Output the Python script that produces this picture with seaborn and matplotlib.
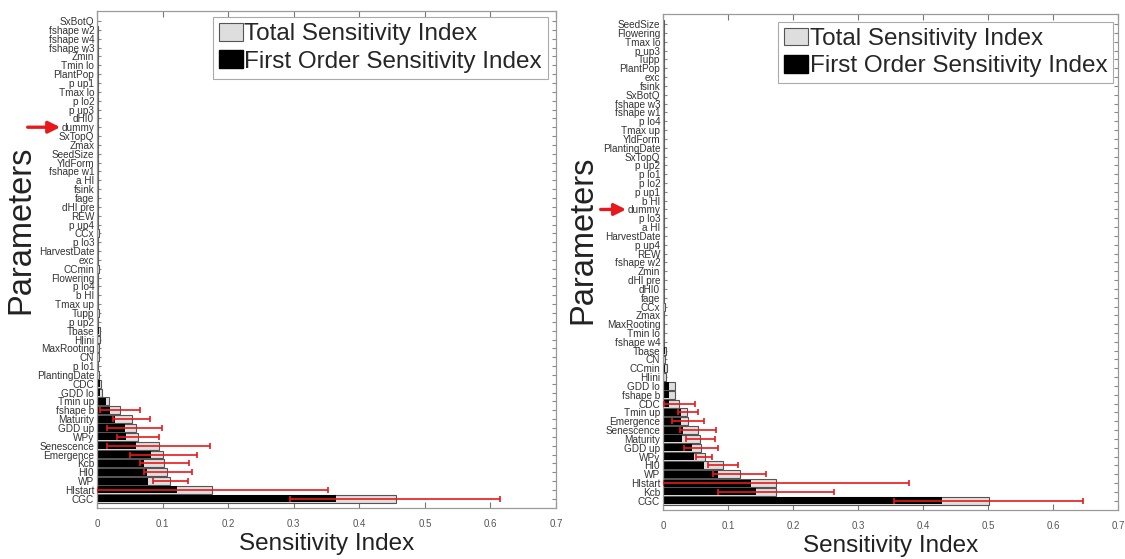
import numpy as np
import pandas as pd
import matplotlib
matplotlib.use("Agg")
import matplotlib.pyplot as plt
import seaborn as sns
from matplotlib.patches import Patch

nan = np.nan

# ---------------- Left panel data ----------------
params_left = ["SxBotQ", "fshape w2", "fshape w4", "fshape w3", "Zmin", "Tmin lo", "PlantPop", "p up1",
               "Tmax lo", "p lo2", "p up3", "dHI0", "dummy", "SxTopQ", "Zmax", "SeedSize", "YldForm",
               "fshape w1", "a HI", "fsink", "fage", "dHI pre", "REW", "p up4", "CCx", "p lo3",
               "HarvestDate", "exc", "CCmin", "Flowering", "p lo4", "b HI", "Tmax up", "Tupp", "p up2",
               "Tbase", "HIini", "MaxRooting", "CN", "p lo1", "PlantingDate", "CDC", "GDD lo", "Tmin up",
               "fshape b", "Maturity", "GDD up", "WPy", "Senescence", "Emergence", "Kcb", "HI0", "WP",
               "HIstart", "CGC"]
total_left = [0.0005, 0.001, 0.001, 0.002, 0.001, 0.001, 0.001, 0.001, 0.001, 0.002, 0.001, 0.002,
              0.001, 0.001, 0.001, 0.002, 0.001, 0.001, 0.001, 0.001, 0.001, 0.001, 0.001, 0.001,
              0.003, 0.001, 0.002, 0.001, 0.003, 0.001, 0.001, 0.002, 0.001, 0.003, 0.002, 0.004,
              0.004, 0.003, 0.003, 0.002, 0.003, 0.006, 0.007, 0.018, 0.035, 0.053, 0.059, 0.063,
              0.094, 0.100, 0.102, 0.107, 0.112, 0.175, 0.456]
first_left = [0, 0, 0, 0.001, 0, 0, 0, 0, 0, 0, 0, 0,
              0, 0, 0, 0, 0, 0, 0, 0, 0, 0, 0, 0,
              0.002, 0, 0, 0, 0.002, 0, 0, 0, 0, 0.002, 0, 0.003,
              0.001, 0, 0, 0, 0.001, 0.004, 0.005, 0.014, 0.020, 0.028, 0.042, 0.045,
              0.059, 0.082, 0.071, 0.076, 0.078, 0.122, 0.365]
ci_low_left = [nan] * 44 + [0.005, 0.025, 0.016, 0.030, 0.016, 0.050, 0.065, 0.071, 0.086, 0.000, 0.295]
ci_high_left = [nan] * 44 + [0.065, 0.081, 0.099, 0.095, 0.173, 0.152, 0.140, 0.145, 0.139, 0.352, 0.615]

# ---------------- Right panel data ----------------
params_right = ["SeedSize", "Flowering", "Tmax lo", "p up3", "Tupp", "PlantPop", "exc", "fsink", "SxBotQ",
                "fshape w3", "fshape w1", "p lo4", "Tmax up", "YldForm", "PlantingDate", "SxTopQ", "p up2",
                "p lo1", "p lo2", "p up1", "b HI", "dummy", "p lo3", "a HI", "HarvestDate", "p up4", "REW",
                "fshape w2", "Zmin", "dHI pre", "dHI0", "fage", "CCx", "Zmax", "MaxRooting", "Tmin lo",
                "fshape w4", "Tbase", "CN", "CCmin", "HIini", "GDD lo", "fshape b", "CDC", "Tmin up",
                "Emergence", "Senescence", "Maturity", "GDD up", "WPy", "HI0", "WP", "HIstart", "Kcb", "CGC"]
total_right = [0.001, 0.001, 0.001, 0.001, 0.002, 0.002, 0.001, 0.001, 0.002, 0.002, 0.002, 0.002,
               0.001, 0.001, 0.001, 0.001, 0.001, 0.001, 0.001, 0.001, 0.002, 0.002, 0.002, 0.001,
               0.001, 0.001, 0.002, 0.001, 0.001, 0.001, 0.001, 0.002, 0.003, 0.001, 0.002, 0.002,
               0.002, 0.005, 0.003, 0.006, 0.005, 0.018, 0.019, 0.025, 0.037, 0.038, 0.054, 0.057,
               0.059, 0.064, 0.092, 0.118, 0.174, 0.174, 0.502]
first_right = [0, 0, 0, 0, 0.001, 0.001, 0, 0, 0, 0.001, 0.001, 0.001,
               0, 0, 0, 0, 0, 0, 0, 0, 0, 0, 0, 0,
               0, 0, 0, 0, 0, 0, 0, 0, 0.002, 0, 0, 0,
               0, 0.003, 0, 0.003, 0.001, 0.010, 0.009, 0.009, 0.027, 0.028, 0.031, 0.030,
               0.045, 0.047, 0.063, 0.085, 0.136, 0.143, 0.429]
ci_low_right = [nan] * 43 + [0.0015, 0.023, 0.014, 0.026, 0.035, 0.033, 0.051, 0.069, 0.077, 0.000, 0.084, 0.356]
ci_high_right = [nan] * 43 + [0.049, 0.054, 0.063, 0.082, 0.080, 0.085, 0.075, 0.115, 0.159, 0.378, 0.263, 0.647]

x_ticks = [0, 0.1, 0.2, 0.3, 0.4, 0.5, 0.6, 0.7]
x_ticklabels = ["0", "0.1", "0.2", "0.3", "0.4", "0.5", "0.6", "0.7"]

GREY = "#dedede"
EDGE = "#555555"
RED = "#e8191c"
SPINE = "#9a9a9a"

sns.set_style("white")
plt.rcParams["font.family"] = ["Liberation Sans", "DejaVu Sans"]

fig = plt.figure(figsize=(11.25, 5.59), dpi=100)
axL = fig.add_axes([0.0862, 0.0912, 0.408, 0.889])
axR = fig.add_axes([0.5893, 0.0877, 0.4044, 0.887])


def panel(ax, params, total, first, lo, hi, arrow_x, ylab_xy, leg_anchor):
    df = pd.DataFrame({"param": params, "total": total, "first": first, "lo": lo, "hi": hi})
    sns.barplot(data=df, x="total", y="param", order=params, orient="h", color=GREY,
                edgecolor=EDGE, linewidth=0.8, width=0.9, saturation=1, ax=ax)
    sns.barplot(data=df, x="first", y="param", order=params, orient="h", color="black",
                edgecolor="black", linewidth=0, width=0.8, saturation=1, ax=ax)
    pos = np.arange(len(params))
    centre = (df["lo"] + df["hi"]) / 2
    half = (df["hi"] - df["lo"]) / 2
    ax.errorbar(centre, pos, xerr=half, fmt="none", ecolor=RED, elinewidth=1.2,
                capsize=2.5, capthick=1.2, zorder=5)
    ax.set_xlim(0, 0.7)
    ax.set_ylim(len(params) - 1 + 1.05, -1.13)
    ax.set_xticks(x_ticks)
    ax.set_xticklabels(x_ticklabels)
    ax.tick_params(axis="x", direction="in", top=True, bottom=True, length=4, color="#777777",
                   labelsize=7, labelcolor="#555555", pad=8)
    ax.tick_params(axis="y", direction="in", left=True, right=True, length=3, color="#888888",
                   labelsize=7.2, labelcolor="#333333", pad=2)
    for s in ax.spines.values():
        s.set_color(SPINE)
        s.set_linewidth(0.9)
    ax.set_xlabel("Sensitivity Index", fontsize=17.5, color="#222222", labelpad=3)
    ax.set_ylabel("Parameters", fontsize=23.5, color="#222222")
    ax.yaxis.set_label_coords(*ylab_xy)
    handles = [Patch(facecolor=GREY, edgecolor=EDGE, linewidth=0.8),
               Patch(facecolor="black", edgecolor="black")]
    leg = ax.legend(handles, ["Total Sensitivity Index", "First Order Sensitivity Index"],
                    loc="upper right", bbox_to_anchor=leg_anchor, fontsize=17.5,
                    frameon=True, fancybox=False, framealpha=1, edgecolor="#aaaaaa",
                    handlelength=1.0, handleheight=0.75, handletextpad=0.05,
                    borderpad=0.25, labelspacing=0.2, borderaxespad=0)
    leg.get_frame().set_linewidth(0.8)
    d = params.index("dummy")
    ax.annotate("", xy=(arrow_x[1], d), xytext=(arrow_x[0], d),
                xycoords=ax.get_yaxis_transform(), textcoords=ax.get_yaxis_transform(),
                arrowprops=dict(arrowstyle="-|>,head_length=0.7,head_width=0.35", color=RED, lw=2.4),
                annotation_clip=False)


panel(axL, params_left, total_left, first_left, ci_low_left, ci_high_left,
      (-0.157, -0.074), (-0.133, 0.56), (0.983, 0.988))
panel(axR, params_right, total_right, first_right, ci_low_right, ci_high_right,
      (-0.143, -0.075), (-0.143, 0.545), (0.99, 0.985))

fig.savefig("out.png", dpi=100)
